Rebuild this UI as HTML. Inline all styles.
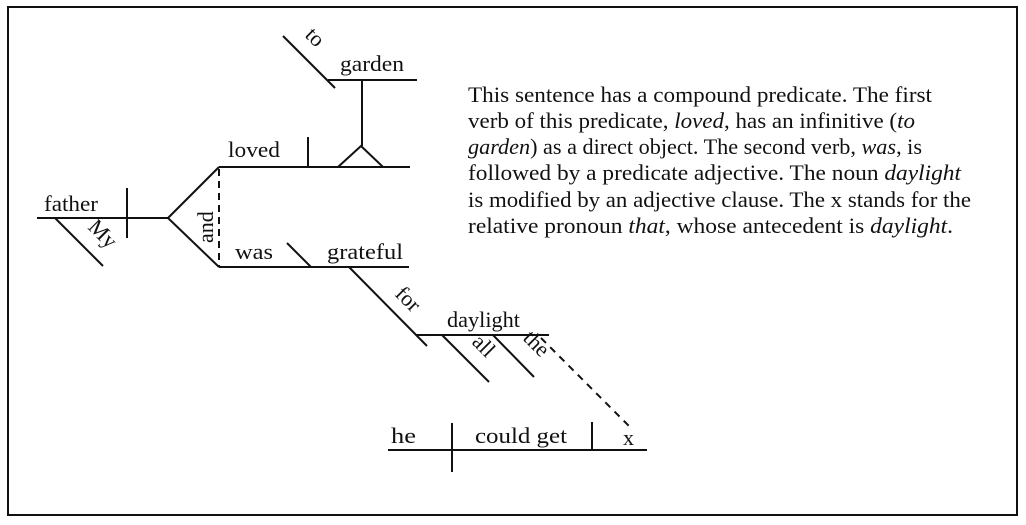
<!DOCTYPE html>
<html><head><meta charset="utf-8"><style>
html,body{margin:0;padding:0;background:#fff;}
svg{display:block;}
text{font-family:"Liberation Serif",serif;fill:#111;}
</style></head><body>
<svg width="1026" height="525" viewBox="0 0 1026 525" xmlns="http://www.w3.org/2000/svg">
<g stroke="#111" stroke-width="2" fill="none">
<rect x="8" y="7" width="1009" height="508" stroke-width="2"/>
<line x1="37" y1="218" x2="168" y2="218"/>
<line x1="127" y1="188" x2="127" y2="238"/>
<line x1="55" y1="218" x2="103" y2="266"/>
<line x1="168" y1="218" x2="219" y2="167"/>
<line x1="168" y1="218" x2="219" y2="267"/>
<line x1="219" y1="169" x2="219" y2="267" stroke-dasharray="7,5"/>
<line x1="219" y1="167" x2="410" y2="167"/>
<line x1="308" y1="137" x2="308" y2="167"/>
<polyline points="338,167 361,146 383,167"/>
<line x1="362" y1="80" x2="362" y2="146"/>
<line x1="328" y1="80" x2="417" y2="80"/>
<line x1="283" y1="36" x2="335" y2="88"/>
<line x1="219" y1="267" x2="409" y2="267"/>
<line x1="287" y1="243" x2="311" y2="267"/>
<line x1="349" y1="267" x2="427" y2="346"/>
<line x1="416" y1="335" x2="549" y2="335"/>
<line x1="442" y1="335" x2="489" y2="382"/>
<line x1="493" y1="335" x2="534" y2="377"/>
<line x1="541" y1="338" x2="631" y2="428" stroke-dasharray="7,6"/>
<line x1="388" y1="450" x2="647" y2="450"/>
<line x1="452" y1="423" x2="452" y2="472"/>
<line x1="592" y1="422" x2="592" y2="450"/>
</g>
<g font-size="22">
<text x="44" y="211" textLength="54" lengthAdjust="spacingAndGlyphs">father</text>
<text transform="translate(87,228) rotate(45)">My</text>
<text transform="translate(213,243) rotate(-90)">and</text>
<text x="228" y="157" textLength="52" lengthAdjust="spacingAndGlyphs">loved</text>
<text x="340" y="71" textLength="64" lengthAdjust="spacingAndGlyphs">garden</text>
<text transform="translate(304,36) rotate(45)">to</text>
<text x="235" y="259" textLength="38" lengthAdjust="spacingAndGlyphs">was</text>
<text x="327" y="259" textLength="76" lengthAdjust="spacingAndGlyphs">grateful</text>
<text transform="translate(394,295) rotate(45)">for</text>
<text x="447" y="327" textLength="73" lengthAdjust="spacingAndGlyphs">daylight</text>
<text transform="translate(471,343) rotate(45)">all</text>
<text transform="translate(522,339) rotate(45)">the</text>
<text x="391" y="443" textLength="25" lengthAdjust="spacingAndGlyphs">he</text>
<text x="475" y="443" textLength="92" lengthAdjust="spacingAndGlyphs">could get</text>
<text x="623" y="445">x</text>
</g>
<g font-size="22">
<text x="468" y="102" textLength="464" lengthAdjust="spacingAndGlyphs">This sentence has a compound predicate. The first</text>
<text x="468" y="128" textLength="447" lengthAdjust="spacingAndGlyphs">verb of this predicate, <tspan font-style="italic">loved</tspan>, has an infinitive (<tspan font-style="italic">to</tspan></text>
<text x="468" y="154" textLength="454" lengthAdjust="spacingAndGlyphs"><tspan font-style="italic">garden</tspan>) as a direct object. The second verb, <tspan font-style="italic">was</tspan>, is</text>
<text x="468" y="180" textLength="493" lengthAdjust="spacingAndGlyphs">followed by a predicate adjective. The noun <tspan font-style="italic">daylight</tspan></text>
<text x="468" y="207" textLength="503" lengthAdjust="spacingAndGlyphs">is modified by an adjective clause. The x stands for the</text>
<text x="468" y="233" textLength="485" lengthAdjust="spacingAndGlyphs">relative pronoun <tspan font-style="italic">that</tspan>, whose antecedent is <tspan font-style="italic">daylight</tspan>.</text>
</g>
</svg>
</body></html>
